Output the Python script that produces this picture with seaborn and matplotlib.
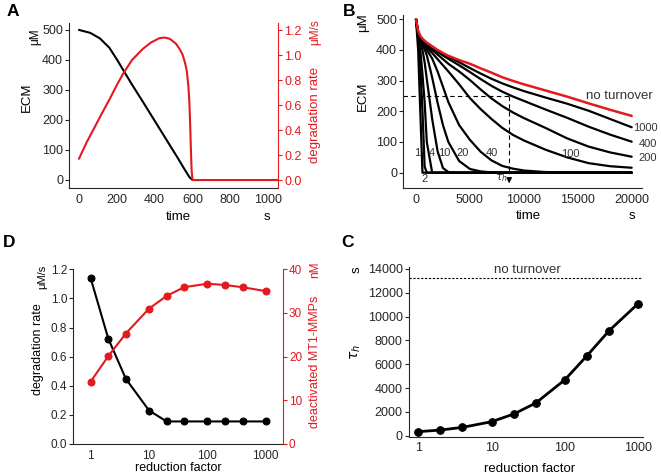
import numpy as np
import pandas as pd
import seaborn as sns
import matplotlib.pyplot as plt
from matplotlib.ticker import FixedLocator, NullLocator

W, H = 661, 476
RED = "#e3191f"
GREY = "#333333"

# panel A: single run, ECM and degradation rate vs time
a_time_ecm = [0, 60, 110, 160, 200, 233, 280, 340, 400, 460, 520, 560, 585, 600]
a_ecm = [500, 490, 472, 441, 402, 367, 318, 258, 197, 136, 75, 33, 8, 0]
a_time_rate = [0, 40, 75, 120, 163, 200, 233, 280, 338, 380, 425, 451, 480, 513,
               535, 548, 560, 570, 578, 583, 588, 591, 595, 600, 1050]
a_rate = [0.17, 0.30, 0.40, 0.53, 0.65, 0.76, 0.85, 0.96, 1.05, 1.10, 1.135, 1.14,
          1.13, 1.09, 1.04, 1.0, 0.94, 0.87, 0.75, 0.63, 0.42, 0.26, 0.08, 0.0, 0.0]

# panel B: ECM vs time for several reduction factors
b_time = [0, 200, 400, 600, 800, 1000, 1500, 2000, 2500, 3000, 4000, 5000, 6000,
          7000, 8000, 9000, 10000, 12000, 14000, 16000, 18000, 20000]
b_no_turnover = [500, 462, 446, 437, 430, 424, 412, 400, 390, 381, 367, 355, 340,
                 326, 311, 299, 288, 268, 248, 226, 205, 185]
b_rf1 = [500, 400, 196, 0, 0, 0, 0, 0, 0, 0, 0, 0, 0, 0, 0, 0, 0, 0, 0, 0, 0, 0]
b_rf2 = [500, 435, 345, 200, 20, 0, 0, 0, 0, 0, 0, 0, 0, 0, 0, 0, 0, 0, 0, 0, 0, 0]
b_rf4 = [500, 440, 400, 320, 230, 100, 0, 0, 0, 0, 0, 0, 0, 0, 0, 0, 0, 0, 0, 0, 0, 0]
b_rf10 = [500, 448, 425, 400, 360, 305, 175, 70, 15, 2, 0, 0, 0, 0, 0, 0, 0, 0, 0, 0, 0, 0]
b_rf20 = [500, 452, 432, 418, 402, 383, 310, 228, 155, 100, 38, 12, 4, 1, 0, 0, 0, 0, 0, 0, 0, 0]
b_rf40 = [500, 453, 435, 424, 413, 401, 372, 330, 280, 230, 155, 107, 68, 40, 22, 13, 7, 2, 0.5, 0, 0, 0]
b_rf100 = [500, 455, 438, 428, 419, 410, 390, 370, 350, 330, 288, 243, 207, 175, 146, 123,
           105, 75, 50, 31, 21, 16]
b_rf200 = [500, 456, 440, 431, 423, 415, 400, 385, 370, 355, 330, 302, 271, 242, 217, 196,
           178, 146, 112, 85, 66, 52]
b_rf400 = [500, 457, 441, 433, 426, 419, 406, 394, 382, 371, 350, 328, 305, 283, 264, 248,
           234, 206, 179, 150, 124, 101]
b_rf1000 = [500, 458, 442, 434, 427, 421, 409, 398, 388, 378, 360, 341, 323, 306, 291, 278,
            266, 245, 225, 202, 175, 148]

# panels C and D: vs reduction factor
reduction = [1, 2, 4, 10, 20, 40, 100, 200, 400, 1000]
tau_h = [336, 476, 700, 1176, 1820, 2744, 4704, 6720, 8820, 11100]
tau_no_turnover = 13250
d_rate = [1.138, 0.724, 0.448, 0.23, 0.155, 0.155, 0.155, 0.155, 0.155, 0.155]
d_deactivated = [14.3, 20.1, 25.3, 31.0, 33.9, 35.9, 36.7, 36.4, 35.9, 35.0]

sns.set_theme(style="ticks")
plt.rcParams["font.family"] = ["Liberation Sans", "DejaVu Sans"]
plt.rcParams["axes.linewidth"] = 0.8


def box(l, t, r, b):
    return [l / W, 1 - b / H, (r - l) / W, (b - t) / H]


def label(x, y, s, rot=0, size=9.5, color="black", **kw):
    fig.text(x / W, 1 - y / H, s, ha="center", va="center", rotation=rot,
             fontsize=size, color=color, **kw)


def style(ax, size=9):
    ax.tick_params(axis="y", direction="out", length=3, width=0.8, labelsize=size, pad=1.5)
    ax.tick_params(axis="x", direction="out", length=0, labelsize=size, pad=4)


fig = plt.figure(figsize=(W / 100, H / 100), dpi=100)

# ---- A
axA = fig.add_axes(box(69.3, 23.3, 278.3, 188.3))
sns.lineplot(x=a_time_ecm, y=a_ecm, ax=axA, color="black", lw=1.5)
axA.set_xlim(-51, 1053)
axA.set_ylim(-28, 522)
axA.set_xticks(range(0, 1001, 200))
axA.set_yticks(range(0, 501, 100))
sns.despine(ax=axA)
style(axA)
axAr = axA.twinx()
sns.lineplot(x=a_time_rate, y=a_rate, ax=axAr, color=RED, lw=1.5)
axAr.set_ylim(-0.066, 1.254)
axAr.set_yticks(np.arange(0, 1.21, 0.2))
axAr.set_yticklabels([f"{v:.1f}" for v in np.arange(0, 1.21, 0.2)])
for s in ["top", "left", "bottom"]:
    axAr.spines[s].set_visible(False)
axAr.spines["right"].set_color(RED)
style(axAr)
axAr.tick_params(axis="y", colors=RED)
axAr.set_ylabel("")

# ---- B
axB = fig.add_axes(box(403.3, 15, 641.7, 188))
curves = [("1", b_rf1), ("2", b_rf2), ("4", b_rf4), ("10", b_rf10), ("20", b_rf20),
          ("40", b_rf40), ("100", b_rf100), ("200", b_rf200), ("400", b_rf400),
          ("1000", b_rf1000)]
for name, vals in curves:
    sns.lineplot(x=b_time, y=vals, ax=axB, color="black", lw=1.6)
sns.lineplot(x=b_time, y=b_no_turnover, ax=axB, color=RED, lw=1.8)
axB.plot([-1178, 8640], [250, 250], ls=(0, (4, 3)), color="black", lw=0.8)
axB.plot([8640, 8640], [250, -5], ls=(0, (4, 3)), color="black", lw=0.8)
axB.annotate("", xy=(8640, -44), xytext=(8640, -8),
             arrowprops=dict(arrowstyle="-|>", color="black", lw=0.8, mutation_scale=8),
             annotation_clip=False)
axB.text(7970, -17, r"$\tau_h$", fontsize=8, ha="center", va="center", color=GREY)
axB.set_xlim(-1178, 20928)
axB.set_ylim(-50, 514)
axB.set_xticks(range(0, 20001, 5000))
axB.set_yticks(range(0, 501, 100))
sns.despine(ax=axB)
style(axB)
for txt, x, y in [("1", 124, 63), ("2", 830, -22), ("4", 1450, 63), ("10", 2590, 63),
                  ("20", 4320, 63), ("40", 7070, 63), ("100", 14320, 60),
                  ("1000", 21300, 145), ("400", 21500, 94), ("200", 21500, 47)]:
    axB.text(x, y, txt, fontsize=8, ha="center", va="center", color=GREY)
axB.text(18900, 250, "no turnover", fontsize=9.5, ha="center", va="center", color=GREY)

# ---- C
axC = fig.add_axes(box(409, 266.7, 643.3, 436.7))
axC.set_xscale("log")
sns.lineplot(x=reduction, y=tau_h, ax=axC, color="black", lw=2,
             marker="o", markersize=5.5, markeredgecolor="black")
axC.plot([0.746, 1170], [tau_no_turnover] * 2, ls=(0, (2, 1.5)), color="black", lw=0.8)
axC.text(31, tau_no_turnover + 120, "no turnover", fontsize=9.5, ha="center", va="bottom",
         color=GREY)
axC.set_xlim(0.746, 1170)
axC.set_ylim(-84, 14190)
axC.xaxis.set_major_locator(FixedLocator([1, 10, 100, 1000]))
axC.xaxis.set_minor_locator(NullLocator())
axC.set_xticklabels(["1", "10", "100", "1000"])
axC.set_yticks(range(0, 14001, 2000))
sns.despine(ax=axC)
style(axC)

# ---- D
axD = fig.add_axes(box(73.3, 269.3, 282.7, 444))
axD.set_xscale("log")
sns.lineplot(x=reduction, y=d_rate, ax=axD, color="black", lw=1.5,
             marker="o", markersize=5, markeredgecolor="black")
axD.set_xlim(0.503, 1955)
axD.set_ylim(0, 1.2)
axD.xaxis.set_major_locator(FixedLocator([1, 10, 100, 1000]))
axD.xaxis.set_minor_locator(NullLocator())
axD.set_xticklabels(["1", "10", "100", "1000"])
axD.set_yticks(np.arange(0, 1.21, 0.2))
axD.set_yticklabels([f"{v:.1f}" for v in np.arange(0, 1.21, 0.2)])
sns.despine(ax=axD)
style(axD, 8.5)
axDr = axD.twinx()
sns.lineplot(x=reduction, y=d_deactivated, ax=axDr, color=RED, lw=1.5,
             marker="o", markersize=5, markeredgecolor=RED)
axDr.set_ylim(0, 40)
axDr.set_yticks(range(0, 41, 10))
for s in ["top", "left", "bottom"]:
    axDr.spines[s].set_visible(False)
axDr.spines["right"].set_color(RED)
style(axDr, 8.5)
axDr.tick_params(axis="y", colors=RED)
axDr.set_ylabel("")
for ax in [axA, axB, axC, axD]:
    ax.set_xlabel("")
    ax.set_ylabel("")

# axis titles and units
label(178, 217, "time")
label(267, 217, "s")
label(27, 97, "ECM", rot=90)
label(35, 37, "μM", rot=90, size=8.5)
label(315, 115, "degradation rate", rot=90, color=RED)
label(315, 32, "μM/s", rot=90, color=RED, size=8.5)

label(528, 216, "time")
label(632, 216, "s")
label(363, 96, "ECM", rot=90)
label(363, 23, "μM", rot=90)

label(530, 469, "reduction factor")
label(357, 270, "s", rot=90)
label(356, 352, r"$\tau_h$", rot=90, size=10)

label(178, 468, "reduction factor", size=9)
label(38, 349, "degradation rate", rot=90, size=9)
label(42, 277, "μM/s", rot=90, size=8)
label(315, 362, "deactivated MT1-MMPs", rot=90, color=RED, size=9)
label(315, 270, "nM", rot=90, color=RED, size=8.5)

# panel letters
label(13, 12, "A", size=12.5, fontweight="bold")
label(349, 11, "B", size=12.5, fontweight="bold")
label(9, 243, "D", size=12.5, fontweight="bold")
label(348, 243, "C", size=12.5, fontweight="bold")

fig.savefig("out.png", dpi=100)
